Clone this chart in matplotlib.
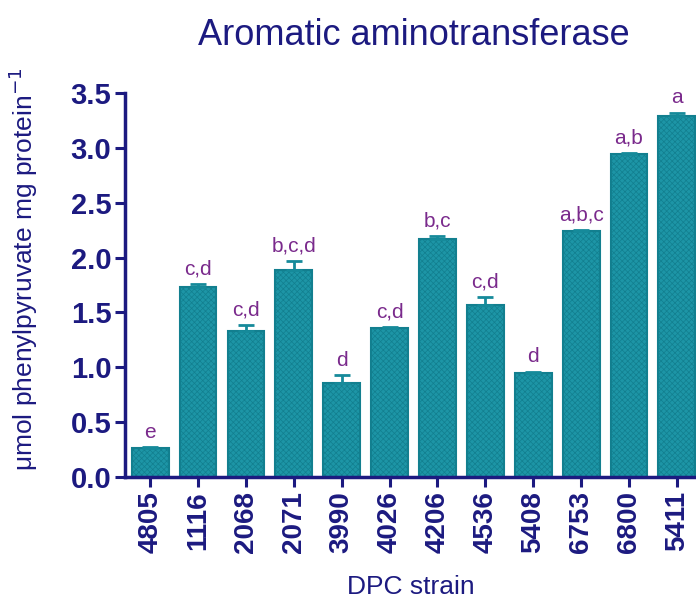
import matplotlib.pyplot as plt
import numpy as np

plt.rcParams['font.family'] = ['Liberation Sans', 'DejaVu Sans']
plt.rcParams['hatch.linewidth'] = 0.5

# Strain labels, mean activity and SEM
strains = ['4805', '1116', '2068', '2071', '3990', '4026',
           '4206', '4536', '5408', '6753', '6800', '5411']
activity = [0.26, 1.73, 1.33, 1.89, 0.86, 1.36, 2.17, 1.57, 0.95, 2.24, 2.94, 3.29]
sem = [0.01, 0.03, 0.06, 0.08, 0.07, 0.01, 0.03, 0.07, 0.01, 0.01, 0.01, 0.03]
groups = ['e', 'c,d', 'c,d', 'b,c,d', 'd', 'c,d', 'b,c', 'c,d', 'd', 'a,b,c', 'a,b', 'a']

navy = '#1c1a80'
teal = '#1d95a6'
purple = '#7a2a8c'

fig = plt.figure(figsize=(6.96, 6.02), dpi=100)
ax = fig.add_axes([0.18, 0.2076, 0.82, 0.6379])

x = np.arange(len(strains))
ax.bar(x, activity, width=0.77, color=teal, edgecolor='#127f8f',
       linewidth=1.5, hatch='xxxxxx', zorder=2)
ax.errorbar(x, activity, yerr=[np.zeros(len(sem)), sem], fmt='none',
            ecolor='#168a9a', elinewidth=2, capsize=6, capthick=2, zorder=3)

for xi, v, e, g in zip(x, activity, sem, groups):
    ax.text(xi, v + e + 0.05, g, ha='center', va='bottom',
            fontsize=15, color=purple)

ax.set_ylim(0, 3.5)
ax.set_xlim(-0.52, 11.4)
ax.set_yticks(np.arange(0, 3.51, 0.5))
ax.set_yticklabels(['%.1f' % t for t in np.arange(0, 3.51, 0.5)])
ax.set_xticks(x)
ax.set_xticklabels(strains, rotation=90)

for lab in ax.get_xticklabels():
    lab.set_fontweight('bold')
    lab.set_fontsize(20)
    lab.set_color(navy)
for lab in ax.get_yticklabels():
    lab.set_fontweight('bold')
    lab.set_fontsize(21)
    lab.set_color(navy)

ax.tick_params(axis='both', direction='out', length=7, width=2.2,
               color=navy, pad=3)
for s in ['top', 'right']:
    ax.spines[s].set_visible(False)
for s in ['left', 'bottom']:
    ax.spines[s].set_linewidth(2.5)
    ax.spines[s].set_color(navy)

ax.set_ylabel('\u03bcmol phenylpyruvate mg protein$^{-1}$', fontsize=19,
              color=navy)
ax.yaxis.set_label_coords(-0.15, 0.54)
ax.set_xlabel('DPC strain', fontsize=19, color=navy, labelpad=16)
fig.suptitle('Aromatic aminotransferase', fontsize=26, color=navy, x=0.595, y=0.97)

fig.savefig('out.png', dpi=100)
